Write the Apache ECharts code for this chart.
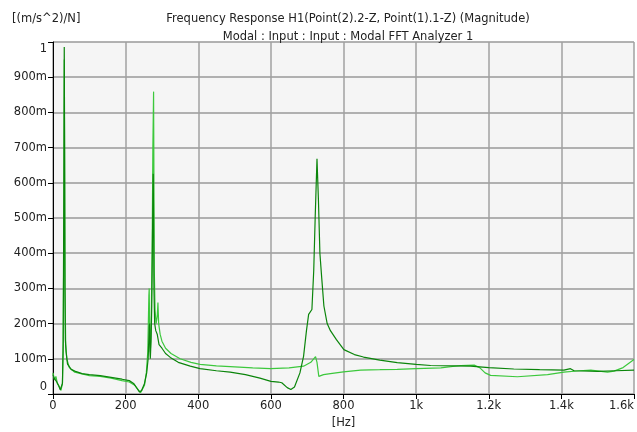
<!DOCTYPE html>
<html>
<head>
<meta charset="utf-8">
<script src="https://cdn.jsdelivr.net/npm/echarts@6/dist/echarts.min.js"></script>
<style>
  html, body { margin: 0; padding: 0; background: #fff; }
  #chart { width: 637px; height: 432px; }
</style>
</head>
<body>
<div id="chart"></div>
<script>
// 频率轴刻度
var xTicks = [0, 200, 400, 600, 800, 1000, 1200, 1400, 1600];
var xTickLabels = ['0', '200', '400', '600', '800', '1k', '1.2k', '1.4k', '1.6k'];

// 深绿曲线 (Hz, (m/s^2)/N)
var freqDark = [0, 3, 6, 10, 15, 20, 23, 26, 28, 30, 31, 32, 33, 34, 36, 40, 50, 60, 80, 100,
    130, 160, 190, 210, 222, 232, 238, 244, 252, 258, 262, 265, 266, 267, 268, 270, 272, 274, 276, 277,
    278, 280, 283, 287, 292, 300, 310, 323, 345, 378, 405, 450, 488, 530, 570, 600, 621, 630, 645, 655,
    665, 680, 690, 698, 704, 713, 718, 722, 727, 731, 735, 740, 746, 755, 764, 780, 801, 830, 855, 900,
    948, 1000, 1040, 1100, 1150, 1200, 1269, 1340, 1407, 1425, 1435, 1500, 1550, 1600];
var magDark = [0.055, 0.045, 0.05, 0.035, 0.025, 0.012, 0.008, 0.03, 0.15, 0.6, 0.986, 0.7, 0.3, 0.155, 0.12, 0.085, 0.07, 0.065, 0.058, 0.055,
    0.052, 0.047, 0.042, 0.038, 0.03, 0.015, 0.006, 0.01, 0.03, 0.06, 0.1, 0.19, 0.2, 0.12, 0.1, 0.15, 0.25, 0.45, 0.626, 0.5,
    0.3, 0.2, 0.18, 0.17, 0.14, 0.13, 0.115, 0.104, 0.09, 0.079, 0.072, 0.066, 0.062, 0.055, 0.045, 0.036, 0.034, 0.032, 0.018, 0.013,
    0.02, 0.06, 0.107, 0.18, 0.226, 0.24, 0.35, 0.5, 0.668, 0.55, 0.4, 0.33, 0.25, 0.2, 0.18, 0.155, 0.126, 0.112, 0.105, 0.096,
    0.089, 0.084, 0.081, 0.08, 0.079, 0.075, 0.071, 0.069, 0.068, 0.072, 0.066, 0.064, 0.066, 0.068];

// 浅绿曲线
var freqLight = [0, 4, 8, 12, 18, 22, 26, 28, 30, 31, 33, 35, 38, 45, 60, 80, 100, 130, 160, 190,
    210, 225, 235, 241, 246, 252, 257, 261, 264, 265, 266, 268, 270, 273, 275, 277, 278, 279, 281, 284,
    287, 289, 291, 295, 300, 310, 325, 350, 380, 405, 450, 488, 550, 599, 650, 690, 710, 723, 727, 732,
    745, 764, 800, 847, 900, 948, 1000, 1068, 1123, 1160, 1175, 1190, 1205, 1279, 1362, 1407, 1450, 1481, 1527, 1545,
    1570, 1600];
var magLight = [0.06, 0.04, 0.05, 0.03, 0.02, 0.01, 0.03, 0.12, 0.5, 0.95, 0.3, 0.14, 0.1, 0.075, 0.062, 0.057, 0.052, 0.05, 0.045, 0.038,
    0.034, 0.025, 0.012, 0.004, 0.008, 0.025, 0.06, 0.12, 0.28, 0.3, 0.2, 0.12, 0.18, 0.4, 0.7, 0.859, 0.6, 0.35, 0.24, 0.2,
    0.22, 0.26, 0.2, 0.17, 0.15, 0.13, 0.115, 0.1, 0.09, 0.084, 0.08, 0.078, 0.074, 0.072, 0.074, 0.079, 0.09, 0.106, 0.09, 0.05,
    0.055, 0.058, 0.063, 0.068, 0.069, 0.07, 0.072, 0.074, 0.081, 0.082, 0.075, 0.06, 0.053, 0.049, 0.055, 0.062, 0.066, 0.068, 0.062, 0.065,
    0.075, 0.098];

function pairs(xs, ys) {
    var out = [];
    for (var i = 0; i < xs.length; i++) {
        out.push([xs[i], ys[i]]);
    }
    return out;
}

var FONT = 'DejaVu Sans';
var FS = 11.5;
var chart = echarts.init(document.getElementById('chart'));
var option = {
    backgroundColor: '#ffffff',
    animation: false,
    title: [{
        text: 'Frequency Response H1(Point(2).2-Z, Point(1).1-Z) (Magnitude)',
        left: 343, top: 8, textAlign: 'center',
        textStyle: { fontFamily: FONT, fontSize: FS, fontWeight: 'normal', color: '#222' }
    }, {
        text: 'Modal : Input : Input : Modal FFT Analyzer 1',
        left: 343, top: 26, textAlign: 'center',
        textStyle: { fontFamily: FONT, fontSize: FS, fontWeight: 'normal', color: '#222' }
    }, {
        text: '[(m/s^2)/N]',
        left: 7, top: 8,
        textStyle: { fontFamily: FONT, fontSize: FS, fontWeight: 'normal', color: '#222' }
    }],
    grid: {
        left: 53, right: 3, top: 42, bottom: 38,
        outerBoundsMode: 'none',
        containLabel: false,
        show: true, backgroundColor: '#f5f5f5', borderWidth: 0
    },
    xAxis: {
        type: 'value', min: 0, max: 1600, interval: 200,
        name: '[Hz]', nameLocation: 'middle', nameGap: 23,
        nameTextStyle: { fontFamily: FONT, fontSize: FS, color: '#222' },
        axisLine: { show: true, onZero: false, lineStyle: { color: '#000', width: 1 } },
        axisTick: { show: true, length: 5, lineStyle: { color: '#000' } },
        axisLabel: {
            fontFamily: FONT, fontSize: FS, color: '#222', margin: 6,
            alignMaxLabel: 'right',
            formatter: function (v) { return xTickLabels[xTicks.indexOf(v)]; }
        },
        splitLine: { show: true, lineStyle: { color: '#a0a0a0', width: 1.5 } }
    },
    yAxis: {
        type: 'value', min: 0, max: 1, interval: 0.1,
        axisLine: { show: true, lineStyle: { color: '#000', width: 1 } },
        axisTick: { show: true, length: 5, lineStyle: { color: '#000' } },
        axisLabel: {
            fontFamily: FONT, fontSize: FS, color: '#222', margin: 6,
            formatter: function (v) {
                if (v === 0) return '{z|0}';
                if (Math.abs(v - 1) < 1e-9) return '{t|1}';
                return Math.round(v * 1000) + 'm';
            },
            rich: {
                z: { fontFamily: FONT, fontSize: FS, color: '#222', padding: [0, 0, 14, 0] },
                t: { fontFamily: FONT, fontSize: FS, color: '#222', padding: [14, 0, 0, 0] }
            }
        },
        splitLine: { show: true, lineStyle: { color: '#989898', width: 1.5 } }
    },
    series: [{
        name: 'light',
        type: 'line',
        data: pairs(freqLight, magLight),
        showSymbol: false,
        lineStyle: { color: '#3cc83c', width: 1.2 },
        z: 2
    }, {
        name: 'dark',
        type: 'line',
        data: pairs(freqDark, magDark),
        showSymbol: false,
        lineStyle: { color: '#0b850b', width: 1.2 },
        z: 3
    }]
};
chart.setOption(option);
</script>
</body>
</html>
